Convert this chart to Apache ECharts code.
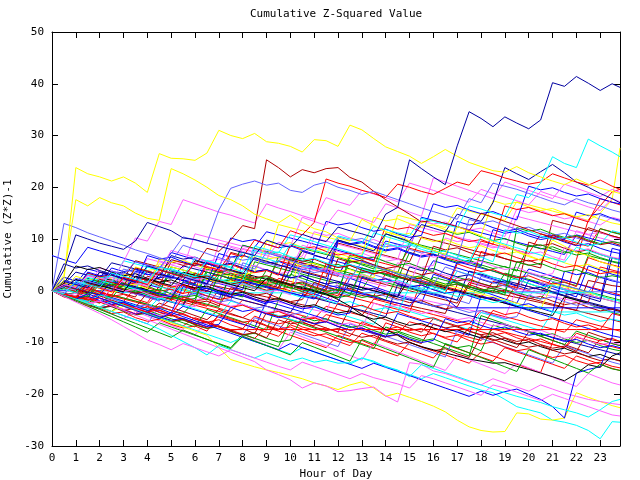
<!DOCTYPE html>
<html>
<head>
<meta charset="utf-8">
<script src="https://cdn.jsdelivr.net/npm/echarts@6/dist/echarts.min.js"></script>
<style>
html, body { margin: 0; padding: 0; background: #fff; }
#chart { width: 640px; height: 480px; }
</style>
</head>
<body>
<div id="chart"></div>
<script>
// hour of day for every sample (half-hour steps, last one at 23:50)
var hours = [0, 0.5, 1, 1.5, 2, 2.5, 3, 3.5, 4, 4.5, 5, 5.5, 6, 6.5, 7, 7.5,
    8, 8.5, 9, 9.5, 10, 10.5, 11, 11.5, 12, 12.5, 13, 13.5, 14, 14.5, 15, 15.5,
    16, 16.5, 17, 17.5, 18, 18.5, 19, 19.5, 20, 20.5, 21, 21.5, 22, 22.5, 23, 23.5, 23.83];

// cumulative (z*z)-1, one array per station
var navyTop = [0, 4.0, 10.8, 10.0, 9.2, 8.6, 8.0, 9.6,
    13.2, 12.4, 11.6, 10.2, 9.9, 9.2, 8.6, 8.0,
    7.4, 6.8, 9.8, 9.0, 8.4, 10.9, 10.1, 9.5,
    12.3, 11.6, 11.0, 10.3, 14.8, 16.1, 25.3, 23.6,
    22.0, 20.5, 28.0, 34.6, 33.3, 31.7, 33.6, 32.4,
    31.3, 33.0, 40.2, 39.5, 41.4, 40.1, 38.7, 40.0, 39.3];
var yellowTop = [0, 2.0, 23.8, 22.6, 22.0, 21.2, 22.0, 20.8,
    19.0, 26.5, 25.6, 25.5, 25.2, 26.6, 31.0, 30.0,
    29.4, 30.4, 28.8, 28.5, 27.9, 26.8, 29.2, 29.0,
    27.9, 32.0, 31.1, 29.4, 27.8, 26.9, 26.0, 24.6,
    25.9, 27.3, 26.0, 24.8, 24.0, 23.2, 22.9, 24.0,
    22.8, 22.0, 21.2, 20.5, 21.6, 20.6, 19.8, 19.2, 18.8];
var yellowSecond = [0, 3.0, 17.6, 16.4, 18.0, 17.0, 16.4, 15.0,
    14.0, 13.6, 23.6, 22.6, 21.4, 20.0, 18.4, 17.6,
    16.4, 14.8, 13.9, 13.1, 14.6, 13.2, 12.0, 11.4,
    10.2, 9.6, 13.8, 12.6, 11.4, 10.8, 9.6, 8.6,
    7.8, 7.0, 12.4, 11.5, 10.6, 9.4, 8.8, 7.6,
    6.8, 5.9, 9.8, 8.6, 7.4, 6.8, 5.6, 4.9, 4.4];
var cyanTop = [0, -0.6, 1.8, 1.2, 0.6, 3.4, 2.8, 2.2,
    1.6, 4.6, 4.0, 3.4, 2.7, 5.8, 5.2, 4.6,
    7.4, 6.8, 6.2, 5.5, 9.0, 8.4, 7.8, 7.2,
    10.6, 10.0, 9.3, 12.4, 11.8, 11.2, 10.6, 14.0,
    13.4, 12.8, 12.2, 16.4, 15.8, 15.0, 14.4, 18.6,
    18.0, 20.8, 25.9, 24.6, 23.8, 29.3, 28.0, 26.8, 25.9];
var slateSpike = [0, 13.0, 12.2, 11.2, 10.4, 9.6, 8.8, 7.9,
    7.2, 6.4, 5.6, 8.8, 8.0, 7.2, 6.4, 5.6,
    4.9, 4.2, 7.4, 6.6, 5.8, 5.0, 4.4, 3.6,
    2.9, 2.2, 5.6, 4.8, 4.0, 3.3, 2.6, 1.9,
    1.2, 4.6, 3.8, 3.0, 2.3, 1.6, 0.9, 0.2,
    3.4, 2.6, 1.8, 1.1, 0.4, -0.3, 2.8, 2.1, 1.6];
var slateHigh = [0, 0.8, 2.4, 1.8, 1.2, 3.8, 3.2, 5.6,
    5.0, 4.4, 7.2, 10.4, 9.8, 9.2, 15.6, 19.8,
    20.6, 21.2, 20.4, 20.8, 19.4, 19.0, 20.4, 21.0,
    20.0, 19.4, 18.6, 19.2, 18.4, 17.6, 16.8, 16.0,
    15.3, 14.6, 13.8, 17.8, 17.0, 20.8, 20.2, 19.6,
    18.8, 18.0, 17.2, 16.6, 17.8, 17.0, 16.4, 15.6, 15.2];
var maroonHigh = [0, 0.9, 0.3, -0.3, 2.2, 1.6, 1.0, 4.4,
    3.8, 3.1, 6.0, 5.4, 4.8, 8.2, 7.6, 9.8,
    12.6, 12.0, 25.3, 23.8, 22.0, 23.4, 22.8, 23.6,
    23.8, 21.9, 21.0, 19.2, 17.6, 16.2, 14.8, 13.3,
    13.6, 13.0, 12.4, 11.6, 15.0, 14.2, 13.4, 12.6,
    11.8, 11.0, 10.2, 9.6, 8.8, 12.2, 11.4, 10.6, 10.2];
var redHigh = [0, -0.7, -1.4, 1.2, 0.5, -0.2, 2.6, 1.9,
    1.2, 4.0, 3.3, 2.6, 5.4, 4.7, 4.0, 7.2,
    6.5, 9.8, 9.0, 8.3, 11.6, 10.8, 13.2, 21.6,
    20.8, 20.2, 19.4, 18.8, 18.0, 20.6, 20.0, 19.2,
    18.6, 19.8, 21.0, 20.4, 23.2, 22.6, 21.8, 21.2,
    20.6, 21.0, 22.6, 21.8, 21.0, 20.4, 21.4, 20.2, 19.6];
var navySecond = [0, 1.8, 1.2, 0.6, 3.6, 3.0, 2.3, 1.6,
    4.8, 4.1, 3.4, 2.7, 2.0, 1.3, 4.6, 3.9,
    3.2, 6.4, 5.7, 5.0, 4.3, 7.6, 6.9, 6.2,
    9.8, 9.1, 8.4, 7.7, 11.0, 10.3, 9.6, 12.8,
    12.1, 11.4, 14.8, 14.1, 13.4, 17.0, 23.8, 22.6,
    21.5, 23.0, 24.4, 22.8, 21.0, 20.0, 18.8, 17.8, 17.0];
var pinkA = [0, 1.2, 0.6, 3.0, 2.4, 1.8, 5.6, 10.2,
    9.6, 13.4, 12.8, 17.6, 16.8, 16.0, 15.2, 14.6,
    13.8, 13.1, 16.8, 16.0, 15.3, 14.5, 13.8, 18.0,
    17.2, 16.5, 19.4, 18.7, 18.0, 17.2, 20.8, 20.1,
    19.4, 18.6, 17.9, 17.1, 19.6, 18.8, 18.1, 17.4,
    16.6, 19.2, 18.4, 17.7, 17.0, 16.2, 15.5, 17.8, 17.2];
var pinkB = [0, -0.5, 1.8, 1.2, 0.5, -0.2, 2.2, 1.5,
    0.8, 3.6, 7.8, 7.1, 6.4, 5.6, 4.9, 8.4,
    7.6, 6.9, 6.2, 9.4, 8.6, 14.2, 13.4, 12.6,
    15.6, 14.8, 14.0, 13.2, 16.8, 16.0, 15.2, 14.4,
    21.8, 21.0, 20.2, 19.4, 18.6, 17.8, 21.0, 20.2,
    19.4, 18.6, 17.8, 20.6, 19.8, 19.0, 18.2, 19.6, 19.0];
var cyanMid = [0, 0.8, 0.2, 2.6, 2.0, 1.4, 5.8, 5.2,
    4.6, 4.0, 3.3, 2.6, 6.4, 5.8, 5.1, 4.4,
    3.7, 8.6, 8.0, 7.3, 10.8, 10.2, 9.5, 8.8,
    8.1, 7.4, 6.7, 11.2, 10.5, 9.8, 9.1, 8.4,
    7.7, 7.0, 6.3, 5.6, 10.4, 9.7, 9.0, 8.3,
    7.6, 6.9, 6.2, 5.5, 8.4, 7.7, 7.0, 6.3, 5.9];
var redFlat = [0, -0.6, -1.2, -1.8, -1.4, -2.2, -2.9, -3.5,
    -4.2, -3.0, -3.8, -4.6, -5.4, -6.2, -7.0, -7.5,
    -7.5, -7.5, -7.5, -7.5, -7.5, -7.5, -7.5, -7.5,
    -7.5, -7.5, -7.5, -7.5, -7.5, -7.5, -7.5, -7.5,
    -7.5, -7.5, -7.5, -7.5, -7.5, -7.5, -7.5, -7.5,
    -7.5, -7.5, -7.5, -7.5, -7.5, -7.5, -7.5, -7.5, -7.5];
var blueFlat = [0, 1.0, 0.4, -0.2, -0.8, 1.8, 1.2, 0.6,
    0.0, -0.6, -1.2, 1.6, 1.0, 0.4, -0.2, -0.8,
    2.0, 1.4, 0.8, 0.2, -0.4, -1.0, -1.6, 1.2,
    0.6, 0.0, -0.6, -1.2, -1.8, -2.4, -3.0, -0.2,
    -0.8, -1.4, -3.3, -3.3, -3.3, -3.3, -3.3, -3.3,
    -3.3, -3.3, -3.3, -3.3, -3.3, -3.3, -3.3, -3.3, -3.3];
var cyanLow = [0, -0.8, -1.6, -2.4, -3.2, -2.0, -2.8, -3.6,
    -4.4, -5.2, -6.0, -6.8, -7.6, -8.4, -9.2, -10.0,
    -9.0, -9.8, -10.6, -11.4, -12.2, -11.0, -11.8, -12.6,
    -13.4, -14.2, -13.0, -13.8, -14.6, -15.4, -16.2, -17.0,
    -16.0, -16.8, -17.6, -18.4, -19.2, -19.7, -21.0, -22.4,
    -23.0, -23.6, -25.0, -25.4, -26.0, -27.0, -28.6, -25.3, -25.4];
var yellowLow = [0, -0.8, -1.6, -2.4, -3.2, -4.0, -3.0, -3.8,
    -4.6, -5.4, -6.2, -7.0, -7.8, -8.6, -11.0, -13.3,
    -14.0, -14.7, -15.3, -15.8, -16.4, -17.0, -17.8, -18.4,
    -19.1, -18.2, -17.6, -18.8, -20.4, -19.8, -20.6, -21.4,
    -22.3, -23.4, -25.0, -26.3, -27.0, -27.3, -27.2, -23.6,
    -23.8, -24.8, -25.0, -24.6, -19.7, -20.6, -21.4, -22.2, -22.6];
var pinkLow = [0, -0.9, -1.8, -2.7, -2.0, -2.9, -3.8, -4.7,
    -5.6, -6.5, -7.4, -8.3, -9.2, -10.1, -11.0, -11.9,
    -12.8, -13.7, -15.3, -16.2, -17.2, -18.8, -17.8, -18.4,
    -19.5, -19.3, -18.9, -18.6, -20.3, -21.5, -13.9, -14.2,
    -15.5, -16.0, -16.8, -17.6, -18.2, -17.0, -17.8, -18.6,
    -19.4, -18.2, -19.0, -19.8, -20.4, -21.0, -21.4, -21.8, -22.0];
var blueLow = [0, -0.8, -1.6, -0.6, -1.4, -2.2, -3.0, -3.8,
    -4.6, -5.4, -4.2, -5.0, -5.8, -6.6, -7.4, -8.2,
    -9.0, -9.8, -10.6, -11.4, -10.2, -11.0, -11.8, -12.6,
    -13.4, -14.2, -15.0, -14.0, -14.8, -15.6, -16.4, -17.2,
    -18.0, -18.8, -19.6, -20.4, -19.4, -20.2, -19.5, -19.0,
    -20.0, -21.0, -22.4, -24.6, -15.9, -15.2, -14.7, -9.0, 8.0];
var blackLow = [0, 0.6, 2.2, 1.6, 1.0, 0.4, -0.2, 2.8,
    2.2, 1.6, 1.0, 3.6, 3.0, 2.4, 1.8, 1.2,
    0.6, 0.0, 2.4, 1.8, 1.2, 0.6, 0.0, -0.6,
    -1.7, -3.0, -4.6, -6.0, -7.5, -8.6, -10.0, -10.8,
    -11.4, -12.0, -12.6, -13.2, -13.6, -14.0, -13.9, -14.6,
    -15.2, -15.9, -16.6, -17.4, -16.0, -14.3, -14.8, -12.6, -12.0];
var greenLow = [0, -0.9, -1.8, -2.7, -3.6, -4.5, -5.4, -6.3,
    -7.2, -8.1, -9.0, -7.6, -8.5, -9.4, -10.3, -11.2,
    -8.8, -9.7, -10.6, -11.5, -12.4, -10.0, -10.9, -11.8,
    -12.7, -13.6, -9.4, -10.3, -11.2, -12.1, -13.0, -13.9,
    -14.8, -10.2, -11.1, -12.0, -12.9, -13.8, -14.7, -15.6,
    -11.4, -12.3, -13.2, -14.1, -15.0, -15.9, -14.2, -15.1, -15.4];
var cyanLow2 = [0, -0.8, -1.6, -2.4, -3.2, -4.0, -4.8, -5.6,
    -6.4, -7.4, -8.6, -9.8, -11.0, -12.4, -10.6, -11.4,
    -12.2, -13.0, -12.0, -12.8, -13.6, -13.0, -13.8, -13.4,
    -14.0, -13.9, -13.0, -13.6, -14.7, -15.3, -16.6, -14.3,
    -15.0, -15.8, -16.6, -17.4, -18.2, -19.0, -19.7, -20.4,
    -21.0, -21.6, -22.4, -23.0, -23.6, -24.4, -23.0, -21.4, -21.0];
var pinkLow2 = [0, -1.1, -2.2, -3.3, -4.4, -5.6, -6.9, -8.2,
    -9.5, -10.4, -11.4, -10.2, -11.0, -11.8, -12.6, -11.4,
    -12.2, -13.0, -13.8, -14.6, -15.3, -13.8, -14.6, -15.4,
    -16.2, -17.0, -16.0, -16.8, -17.4, -18.0, -18.8, -16.4,
    -17.0, -17.8, -18.6, -19.4, -20.2, -18.2, -18.8, -19.6,
    -20.4, -21.2, -20.0, -20.8, -21.6, -22.4, -23.2, -24.0, -24.2];

// the dense middle of the bundle
var mid01 = [0, -0.5, -1.1, -1.7, -0.4, -1.0, -1.6, -2.2, -2.8, -3.4, -1.6, -2.2, -2.8, -3.4, -4.0, -4.6,
    -5.2, -3.8, -4.4, -5.0, -5.6, -6.2, -6.8, -4.6, -5.2, -5.8, -6.4, -7.0, -7.6, -8.2, -6.0, -6.6,
    -7.2, -7.8, -8.4, -9.0, -9.6, -7.4, -8.0, -8.6, -9.2, -9.8, -10.4, -11.0, -9.0, -9.6, -10.2, -10.8, -11.2];
var mid02 = [0, 0.4, -0.2, -0.8, 1.6, 1.0, 0.4, -0.2, -0.8, -1.4, -2.0, 1.2, 0.6, 0.0, -0.6, -1.2,
    2.4, 1.8, 1.2, 0.6, 0.0, -0.6, -1.2, -1.8, 0.8, 0.2, -0.4, -1.0, 3.4, 2.8, 2.2, 1.6,
    1.0, 0.4, -0.2, -0.8, -1.4, 1.8, 1.2, 0.6, 0.0, -0.6, 2.6, 2.0, 1.4, 0.8, 0.2, -0.4, -0.8];
var mid03 = [0, -0.8, -1.6, -2.4, -3.2, -2.0, -2.8, -3.6, -4.4, -5.2, -6.0, -6.8, -5.2, -6.0, -6.8, -7.6,
    -8.4, -9.2, -7.0, -7.8, -8.6, -9.4, -10.2, -11.0, -8.6, -9.4, -10.2, -11.0, -11.8, -12.6, -10.0, -10.8,
    -11.6, -12.4, -13.2, -14.0, -11.8, -12.6, -13.4, -14.2, -15.0, -15.8, -10.0, -2.0, 6.0, 13.7, 16.4, 19.1, 19.6];
var mid04 = [0, 1.4, 0.8, 0.2, 2.8, 2.2, 1.6, 1.0, 3.8, 3.2, 2.6, 2.0, 1.4, 4.6, 4.0, 3.4,
    2.8, 2.2, 1.6, 5.8, 5.2, 4.6, 4.0, 3.4, 2.8, 7.0, 6.4, 5.8, 5.2, 4.6, 8.2, 7.6,
    7.0, 6.4, 5.8, 5.2, 9.6, 9.0, 8.4, 7.8, 7.2, 11.0, 10.4, 9.8, 9.2, 8.6, 12.0, 11.4, 11.0];
var mid05 = [0, -0.6, 1.0, 0.4, -0.2, -0.8, -1.4, -2.0, -2.6, -0.4, -1.0, -1.6, -2.2, -2.8, -3.4, -4.0,
    -1.8, -2.4, -3.0, -3.6, -4.2, -4.8, -5.4, -3.0, -3.6, -4.2, -4.8, -1.6, -2.2, -2.8, -3.4, -4.0,
    -4.6, -5.2, -5.8, -6.4, -3.8, -4.4, -5.0, -5.6, -6.2, -6.8, -7.4, -8.0, -5.6, -6.2, -6.8, -7.4, -7.8];
var mid06 = [0, 0.9, 0.3, -0.3, -0.9, -1.5, -2.1, 0.6, 0.0, -0.6, -1.2, -1.8, -2.4, -3.0, 0.2, -0.4,
    -1.0, -1.6, -2.2, 2.4, 1.8, 1.2, 0.6, 0.0, -0.6, -1.2, -1.8, -2.4, -3.0, -3.6, -4.2, 2.0,
    1.4, 0.8, 0.2, -0.4, -1.0, -1.6, -2.2, 1.4, 0.8, 0.2, -0.4, -1.0, -1.6, -2.2, 4.6, 4.0, 3.6];
var mid07 = [0, -1.0, -2.0, -1.2, -2.0, -2.8, -3.6, -4.4, -3.0, -3.8, -4.6, -5.4, -6.2, -7.0, -4.8, -5.6,
    -6.4, -7.2, -8.0, -8.8, -6.6, -7.4, -8.2, -9.0, -9.8, -10.6, -8.2, -9.0, -9.8, -10.6, -11.4, -12.2,
    -13.0, -10.4, -11.2, -12.0, -12.8, -13.6, -11.0, -11.8, -12.6, -13.4, -14.2, -15.0, -12.6, -13.4, -14.2, -15.0, -15.4];
var mid08 = [6.8, 6.0, 5.3, 8.4, 7.7, 7.0, 6.3, 5.6, 4.9, 4.2, 7.4, 6.7, 6.0, 5.3, 4.6, 3.9,
    8.8, 8.1, 7.4, 6.7, 6.0, 5.3, 4.6, 3.9, 3.2, 6.4, 5.7, 5.0, 4.3, 3.6, 2.9, 2.2,
    5.8, 5.1, 4.4, 3.7, 3.0, 2.3, 1.6, 0.9, 4.2, 3.5, 2.8, 2.1, 1.4, 0.7, 0.0, -0.7, -1.0];
var mid09 = [0, 0, 0, 0, 0, 0, 0, -0.6, -1.2, -1.8, 0.8, 0.2, -0.6, 1.4, 0.6, -0.2,
    -1.0, -1.8, -2.6, 1.8, 1.0, 0.2, -0.6, -1.4, -2.2, 2.4, 1.6, 0.8, 0.0, -0.8, -1.6, -2.4,
    3.2, 2.4, 1.6, 0.8, 0.0, -0.8, -1.6, -2.4, 2.0, 1.2, 0.4, -0.4, -1.2, 4.8, 4.0, 3.2, 2.8];
var mid10 = [0, 2.0, 1.4, 4.2, 3.6, 3.0, 2.4, 1.8, 1.2, 0.6, 3.8, 3.2, 2.6, 2.0, 1.4, 0.8,
    0.2, 8.4, 11.4, 10.8, 10.2, 9.6, 9.0, 8.4, 7.8, 7.2, 6.6, 6.0, 9.6, 9.0, 8.4, 14.2,
    13.6, 13.0, 12.4, 11.8, 11.2, 10.6, 10.0, 9.4, 8.8, 8.2, 7.6, 7.0, 10.8, 10.2, 9.6, 9.0, 8.6];
var mid11 = [0, -0.7, -1.4, -2.1, -0.6, -1.3, -2.0, -2.7, -3.4, -4.1, -4.8, -3.0, -3.7, -4.4, -5.1, -5.8,
    -6.5, -7.2, -2.0, -2.7, -3.4, -4.1, -4.8, -5.5, -6.2, -6.9, -7.6, -8.3, -9.0, -4.4, -5.1, -5.8,
    -6.5, -7.2, -7.9, -8.6, -1.0, -1.7, -2.4, -3.1, -3.8, -4.5, -5.2, -5.9, -6.6, -7.3, -8.0, -8.7, -9.0];
var mid12 = [0, 1.2, 0.6, 0.0, -0.6, 3.8, 3.2, 2.6, 2.0, 1.4, 0.8, 0.2, -0.4, -1.0, -1.6, 2.6,
    2.0, 1.4, 0.8, 0.2, -0.4, -1.0, 6.8, 6.2, 5.6, 5.0, 4.4, 3.8, 3.2, 2.6, 2.0, 1.4,
    0.8, 0.2, 5.6, 5.0, 4.4, 3.8, 3.2, 2.6, 2.0, 1.4, 0.8, 0.2, -0.4, -1.0, -1.6, 8.2, 7.8];
var mid13 = [0, -0.6, 1.8, 1.2, 0.6, 0.0, -0.6, -1.2, 2.8, 2.2, 1.6, 1.0, 0.4, -0.2, 3.6, 3.0,
    2.4, 1.8, 1.2, 0.6, 6.0, 5.4, 4.8, 4.2, 3.6, 3.0, 2.4, 1.8, 1.2, 0.6, 0.0, -0.6,
    -1.2, -1.8, -2.4, 1.6, 1.0, 0.4, -0.2, -0.8, -1.4, -2.0, -2.6, -3.2, -3.8, -4.4, -5.0, -5.6, -6.0];
var mid14 = [0, -0.8, -1.6, -2.4, -1.0, -1.8, -2.6, -3.4, -4.2, -2.4, -3.2, -4.0, -4.8, -5.6, -3.6, -4.4,
    -5.2, -6.0, -6.8, -7.6, -4.8, -5.6, -6.4, -7.2, -8.0, -3.2, -4.0, -4.8, -5.6, -6.4, -7.2, -8.0,
    -5.4, -6.2, -7.0, -7.8, -8.6, -9.4, -10.2, -11.0, -8.0, -8.8, -9.6, -10.4, -11.2, -12.0, -9.4, -10.2, -10.6];
var mid15 = [0, 1.6, 1.0, 0.4, 3.6, 3.0, 2.4, 5.8, 5.2, 4.6, 4.0, 3.4, 2.8, 2.2, 1.6, 7.4,
    6.8, 6.2, 5.6, 5.0, 4.4, 3.8, 3.2, 2.6, 9.2, 8.6, 8.0, 7.4, 6.8, 6.2, 5.6, 10.4,
    9.8, 9.2, 8.6, 8.0, 7.4, 6.8, 6.2, 5.6, 5.0, 4.4, 13.6, 13.0, 12.4, 11.8, 11.2, 10.6, 10.2];
var mid16 = [0, -0.5, -1.0, -1.5, -2.0, 0.4, -0.1, -0.6, -1.1, -1.6, -2.1, -2.6, 1.8, 1.3, 0.8, 0.3,
    -0.2, -0.7, -1.2, -1.7, -2.2, -2.7, -3.2, 0.6, 0.1, -0.4, -0.9, -1.4, -1.9, -2.4, -2.9, -3.4,
    -3.9, -4.4, 1.2, 0.7, 0.2, -0.3, -0.8, -1.3, -1.8, -2.3, -2.8, -3.3, -3.8, 2.0, 1.5, 1.0, 0.8];
var mid17 = [0, -0.8, -1.6, -2.4, -3.2, -4.0, -2.2, -3.0, -3.8, -4.6, -5.4, -6.2, -7.0, -3.6, -4.4, -5.2,
    -6.0, -6.8, -7.6, -1.8, 3.2, 2.4, 1.6, 0.8, 0.0, 5.8, 5.0, 4.2, 11.0, 10.2, 9.4, 8.6,
    7.8, 7.0, 6.2, 5.4, 4.6, 3.8, 3.0, 2.2, 1.4, 0.6, -0.2, -1.0, -1.8, -2.6, -3.4, -4.2, -4.6];
var mid18 = [0, -0.6, -1.2, -1.8, -2.4, -0.8, -1.4, -2.0, -2.6, -3.2, -3.8, -4.4, -2.0, -2.6, -3.2, 4.2,
    8.8, 8.2, 7.6, 7.0, 6.4, 5.8, 5.2, 4.6, 4.0, 3.4, 2.8, 2.2, 1.6, 1.0, 0.4, -0.2,
    2.6, 2.0, 1.4, 0.8, 0.2, -0.4, 3.4, 2.8, 2.2, 1.6, 1.0, 0.4, -0.2, -0.8, -1.4, -2.0, -2.4];
var mid19 = [0, -1.0, -2.0, -3.0, -4.0, -5.0, -6.0, -7.0, -8.0, -6.2, -7.0, -7.8, -8.6, -9.4, -10.2, -11.0,
    -8.4, -9.2, -10.0, -10.8, -5.6, -6.4, -7.2, -8.0, -8.8, -9.6, -10.4, -11.2, -7.0, -7.8, -8.6, -9.4,
    -10.2, -11.0, -11.8, -12.6, -4.8, -5.6, -6.4, -7.2, -8.0, -8.8, -9.6, -10.4, -7.8, -8.6, -9.4, -10.2, -10.6];
var mid20 = [0, 0.6, 0.0, -0.6, 2.0, 1.4, 0.8, 0.2, -0.4, -1.0, -1.6, 1.8, 1.2, 0.6, 0.0, -0.6,
    -1.2, 5.6, 5.0, 4.4, 3.8, 3.2, 2.6, 2.0, 1.4, 0.8, 0.2, 3.8, 3.2, 2.6, 2.0, 1.4,
    0.8, 0.2, 2.6, 2.0, 1.4, 0.8, 0.2, -0.4, -1.0, -1.6, 1.6, 1.0, 0.4, -0.2, -0.8, -1.4, -1.8];
var mid21 = [0, 1.0, 0.4, -0.2, -0.8, -1.4, 1.4, 0.8, 0.2, -0.4, 4.6, 4.0, 3.4, 2.8, 2.2, 1.6,
    1.0, 0.4, 4.0, 3.4, 2.8, 8.2, 7.6, 7.0, 6.4, 5.8, 5.2, 4.6, 4.0, 3.4, 9.4, 8.8,
    8.2, 7.6, 7.0, 6.4, 5.8, 5.2, 4.6, 4.0, 3.4, 2.8, 2.2, 1.6, 1.0, 6.8, 6.2, 5.6, 5.2];
var mid22 = [0, 0.8, 0.2, 3.4, 2.8, 2.2, 1.6, 1.0, 4.8, 4.2, 3.6, 3.0, 2.4, 1.8, 9.2, 8.6,
    8.0, 7.4, 6.8, 6.2, 5.6, 5.0, 4.4, 3.8, 3.2, 2.6, 2.0, 1.4, 0.8, 5.4, 4.8, 4.2,
    3.6, 3.0, 2.4, 1.8, 1.2, 0.6, 0.0, -0.6, -1.2, 1.6, 1.0, 0.4, -0.2, -0.8, -1.4, -2.0, -2.4];
var mid23 = [0, -0.9, -1.8, -2.7, -3.6, -4.5, -5.4, -4.0, -4.9, -5.8, -6.7, -7.6, -8.5, -6.0, -6.9, -7.8,
    -8.7, -9.6, -10.5, -11.4, -8.0, -8.9, -9.8, -10.7, -11.6, -12.5, -13.4, -10.0, -10.9, -11.8, -12.7, -13.6,
    -14.5, -15.4, -12.4, -13.3, -14.2, -15.1, -16.0, -14.0, -14.9, -15.8, -16.7, -17.6, -18.5, -16.0, -16.9, -17.8, -18.2];
var mid24 = [0, 1.8, 1.2, 0.6, 4.4, 3.8, 3.2, 2.6, 6.2, 5.6, 5.0, 4.4, 11.0, 10.4, 9.8, 9.2,
    8.6, 8.0, 7.4, 6.8, 6.2, 5.6, 10.2, 9.6, 9.0, 8.4, 7.8, 7.2, 6.6, 6.0, 12.8, 12.2,
    11.6, 11.0, 10.4, 9.8, 9.2, 8.6, 8.0, 14.4, 13.8, 13.2, 12.6, 12.0, 11.4, 10.8, 10.2, 9.6, 9.2];
var mid25 = [0, -0.5, -1.0, 1.4, 0.9, 0.4, -0.1, -0.6, -1.1, -1.6, -2.1, -2.6, -3.1, 0.8, 0.3, -0.2,
    -0.7, -1.2, -1.7, -2.2, -2.7, -3.2, -3.7, -4.2, 1.8, 1.3, 0.8, 0.3, -0.2, -0.7, -1.2, -1.7,
    -2.2, -2.7, -3.2, -3.7, -4.2, -4.7, -5.2, 0.4, -0.1, -0.6, -1.1, -1.6, -2.1, -2.6, -3.1, -3.6, -3.8];
var mid26 = [0, -0.7, -1.4, 2.2, 1.5, 0.8, 0.1, -0.6, -1.3, -2.0, 1.6, 0.9, 0.2, -0.5, -1.2, -1.9,
    5.4, 4.7, 4.0, 3.3, 2.6, 1.9, 1.2, 0.5, -0.2, -0.9, 3.8, 3.1, 2.4, 1.7, 1.0, 0.3,
    -0.4, -1.1, -1.8, -2.5, 2.8, 2.1, 1.4, -0.2, -0.2, -0.2, -0.2, -0.2, -0.2, -0.2, -0.2, -0.2, -0.2];
var mid27 = [0, -0.8, -1.6, -2.4, -3.2, -4.0, -4.8, -5.6, -6.4, -3.0, -3.8, -4.6, -5.4, -6.2, -7.0, -7.8,
    -8.6, -5.2, -6.0, -6.8, -7.6, -8.4, -9.2, -10.0, -10.8, -6.4, -7.2, -8.0, -8.8, -9.6, -10.4, -11.2,
    -12.0, -12.8, -7.6, -8.4, -9.2, -10.0, -10.8, -11.6, -12.4, -13.2, -14.0, -10.6, -11.4, -12.2, -13.0, -13.8, -14.2];
var mid28 = [0, 1.2, 3.6, 3.0, 2.4, 5.4, 4.8, 4.2, 3.6, 3.0, 2.4, 4.8, 4.2, 3.6, 3.0, 2.4,
    1.8, 1.2, 0.6, 0.0, 4.2, 3.6, 3.0, 2.4, 1.8, 1.2, 0.6, 0.0, -0.6, -1.2, -1.8, -2.4,
    -3.0, -3.6, -4.2, -4.8, -5.4, -6.0, -6.6, -7.2, -7.8, -8.4, -9.0, -9.6, -10.2, -10.8, -11.4, -12.0, -12.4];
var mid29 = [0, -0.6, -1.2, 2.0, 1.4, 0.8, 0.2, -0.4, -1.0, -1.6, -2.2, -2.8, 0.6, 0.0, -0.6, -1.2,
    -1.8, -2.4, -3.0, -3.6, -4.2, -0.8, -1.4, -2.0, -2.6, -3.2, -3.8, -4.4, -5.0, 1.2, 0.6, 0.0,
    -0.6, -1.2, -1.8, 3.8, 3.2, 2.6, 2.0, 1.4, 0.8, 0.2, -0.4, -1.0, -1.6, -2.2, -2.8, -3.4, -3.8];
var mid30 = [0, -0.6, 0.8, 0.2, -0.4, 1.6, 1.0, 0.4, -0.2, -0.8, 0.6, 0.0, -0.4, -0.4, -0.4, -0.4,
    -0.4, -0.4, -0.4, -0.4, -0.4, -0.4, -0.4, -0.4, -0.4, -0.4, -0.4, -0.4, -0.4, -0.4, -0.4, -0.4,
    -0.4, -0.4, -0.4, -0.4, -0.4, -0.4, -0.4, -0.4, -0.4, -0.4, -0.4, -0.4, -0.4, -0.4, -1.0, -1.6, -2.0];
var mid31 = [0, -0.7, -1.4, -2.1, -0.8, -1.5, -2.2, -2.9, -3.6, -1.4, -2.1, -2.8, -3.5, -4.2, -4.9, -2.0,
    -2.7, -3.4, -4.1, -4.8, -5.5, -6.2, -3.0, -3.7, -4.4, -5.1, -5.8, -6.5, -2.6, -3.3, -4.0, -4.7,
    -5.4, -6.1, -6.8, -7.5, -4.2, -4.9, -5.6, -6.3, -7.0, -7.7, -4.1, -4.1, -4.1, -4.1, -4.1, -4.1, -4.1];
var mid32 = [0, -0.6, -1.2, 1.4, 0.8, 0.2, 3.2, 2.6, 2.0, 1.4, 0.8, 0.2, -0.4, 4.0, 3.4, 2.8,
    2.2, 1.6, 1.0, 0.4, -0.2, 8.4, 7.8, 7.2, 6.6, 6.0, 5.4, 4.8, 4.2, 3.6, 3.0, 2.4,
    1.8, 1.2, 0.6, 0.0, -0.6, -1.2, -1.8, -2.4, -3.0, -3.6, 1.4, 0.8, 0.2, -0.4, -1.0, -1.6, -2.0];
var mid33 = [0, 1.2, 0.6, 0.0, -0.6, 2.6, 2.0, 1.4, 0.8, 5.2, 4.6, 4.0, 3.4, 2.8, 2.2, 1.6,
    6.8, 6.2, 5.6, 12.8, 12.2, 11.6, 11.0, 10.4, 9.8, 9.2, 8.6, 8.0, 7.4, 14.6, 14.0, 13.4,
    12.8, 12.2, 16.0, 15.4, 14.8, 14.2, 13.6, 17.2, 16.6, 16.0, 15.4, 14.8, 14.2, 13.6, 15.0, 17.6, 27.6];
var mid34 = [0, 0.8, 0.2, -0.4, 2.6, 2.0, 1.4, 0.8, 0.2, 3.2, 2.6, 2.0, 5.8, 5.2, 4.6, 4.0,
    3.4, 2.8, 2.2, 1.6, 1.0, 0.4, -0.2, -0.8, -1.4, 1.2, 0.6, 0.0, -0.6, -1.2, 2.4, 1.8,
    1.2, 0.6, 0.0, -0.6, -1.2, -1.8, -2.4, -3.0, -3.6, -4.2, -4.8, -1.2, -1.8, -2.4, -3.0, -3.6, -4.0];
var mid35 = [0, -0.9, -0.4, -1.5, -2.3, -1.9, -3.0, -3.6, -3.1, -4.2, -4.9, -4.4, -5.5, -6.1, -5.6, -6.6,
    -7.3, -4.9, -5.8, -6.4, -5.9, -7.0, -7.6, -7.2, -8.1, -8.8, -6.0, -6.9, -7.5, -7.0, -8.0, -8.7,
    -8.2, -9.2, -9.9, -7.1, -7.9, -8.6, -8.1, -9.1, -9.8, -9.3, -10.3, -11.0, -8.2, -9.0, -9.7, -9.2, -9.8];
var mid36 = [0, -0.4, -1.3, 0.4, -0.3, -1.1, -0.7, -1.6, -2.3, 0.9, 0.2, -0.5, -0.1, -1.0, -1.7, -1.3,
    2.8, 2.0, 1.4, 1.8, 0.9, 0.2, 0.6, -0.3, -1.0, 3.3, 2.6, 1.9, 2.3, 1.4, 0.7, 1.1,
    0.2, -0.5, 5.2, 4.4, 3.7, 4.1, 3.2, 2.5, 2.9, 2.0, 1.3, 1.7, 0.8, 6.4, 5.6, 5.0, 4.6];
var mid37 = [0, -0.7, -1.5, -1.1, -2.0, -2.7, -2.3, -3.2, -0.4, -1.2, -0.8, -1.7, -2.4, -2.0, -2.9, 0.6,
    -0.1, -0.9, -0.5, -1.4, -2.1, -1.7, 1.6, 0.8, 0.1, 0.5, -0.4, -1.1, -0.7, -1.6, -2.3, -1.9,
    -2.8, -3.5, -3.1, 1.2, 0.4, -0.3, 0.1, -0.8, -1.5, -1.1, -2.0, -2.7, -2.3, -3.2, -3.9, -3.5, -3.9];
var mid38 = [0, 0.5, -0.3, 2.4, 1.7, 2.1, 1.2, 0.5, 0.9, 0.0, 3.6, 2.9, 3.3, 2.4, 1.7, 2.1,
    1.2, 0.5, 0.9, 6.6, 5.9, 6.3, 5.4, 4.7, 5.1, 4.2, 3.5, 3.9, 3.0, 2.3, 7.4, 6.7,
    7.1, 6.2, 5.5, 5.9, 5.0, 4.3, 4.7, 3.8, 8.8, 8.1, 8.5, 7.6, 6.9, 7.3, 6.4, 5.7, 5.4];
var mid39 = [0, 2.6, 1.9, 2.3, 1.4, 4.4, 3.7, 4.1, 3.2, 2.5, 2.9, 2.0, 1.3, 5.6, 4.9, 5.3,
    4.4, 3.7, 4.1, 3.2, 2.5, 2.9, 2.0, 1.3, 9.6, 8.9, 9.3, 8.4, 7.7, 8.1, 7.2, 6.5,
    6.9, 6.0, 5.3, 5.7, 4.8, 11.8, 11.1, 11.5, 10.6, 9.9, 10.3, 9.4, 8.7, 9.1, 8.2, 7.5, 7.2];
var mid40 = [0, -0.6, 0.9, 0.3, 0.7, -0.2, 2.8, 2.1, 2.5, 1.6, 0.9, 1.3, 6.4, 5.7, 6.1, 5.2,
    4.5, 4.9, 4.0, 3.3, 3.7, 8.8, 8.1, 8.5, 7.6, 6.9, 7.3, 6.4, 5.7, 6.1, 5.2, 4.5,
    4.9, 10.2, 9.5, 9.9, 9.0, 8.3, 8.7, 7.8, 7.1, 7.5, 6.6, 5.9, 11.6, 10.9, 11.3, 10.4, 10.0];
var mid41 = [0, 0.9, 0.2, 3.2, 2.5, 2.9, 2.0, 1.3, 1.7, 0.8, 0.1, 0.5, -0.4, 2.6, 1.9, 2.3,
    1.4, 0.7, 1.1, 0.2, -0.5, 4.8, 4.1, 4.5, 3.6, 2.9, 3.3, 2.4, 1.7, 2.1, 1.2, 0.5,
    0.9, 0.0, 3.8, 3.1, 3.5, 2.6, 1.9, 2.3, 1.4, 0.7, 1.1, 0.2, -0.5, -0.1, -1.0, -1.7, -2.0];
var mid42 = [0, 1.6, 0.9, 1.3, 0.4, -0.3, 0.1, 4.6, 3.9, 4.3, 3.4, 2.7, 3.1, 2.2, 1.5, 1.9,
    1.0, 6.8, 6.1, 6.5, 5.6, 4.9, 5.3, 4.4, 3.7, 4.1, 3.2, 2.5, 11.4, 10.7, 11.1, 10.2,
    9.5, 9.9, 9.0, 8.3, 8.7, 7.8, 7.1, 7.5, 6.6, 5.9, 6.3, 5.4, 4.7, 5.1, 4.2, 3.5, 3.2];
var mid43 = [0, -0.8, -0.3, -1.2, -1.9, -1.5, -2.4, -3.1, -2.7, -3.6, -0.2, -1.0, -0.6, -1.5, -2.2, -1.8,
    -2.7, -3.4, -3.0, -3.9, -4.6, -4.2, 1.4, 0.6, 1.0, 0.1, -0.6, -0.2, -1.1, -1.8, -1.4, -2.3,
    -3.0, -2.6, -3.5, -4.2, -3.8, -4.7, -5.4, -5.0, -0.8, -1.6, -1.2, -2.1, -2.8, -2.4, -3.3, -4.0, -4.2];
var mid44 = [0, 5.2, 4.4, 4.8, 3.9, 3.2, 3.6, 2.7, 2.0, 2.4, 6.8, 6.1, 6.5, 5.6, 4.9, 5.3,
    4.4, 3.7, 4.1, 3.2, 2.5, 2.9, 2.0, 1.3, 1.7, 0.8, 0.1, 0.5, -0.4, -1.1, 4.6, 3.9,
    4.3, 3.4, 2.7, 3.1, 2.2, 1.5, 1.9, 1.0, 0.3, 0.7, -0.2, -0.9, -0.5, -1.4, -2.1, 6.4, 6.0];
var mid45 = [0, -1.2, -1.8, -2.9, -3.4, -4.4, -4.1, -5.2, -5.9, -5.5, -6.5, -7.2, -6.8, -7.8, -4.6, -5.4,
    -6.1, -5.7, -6.7, -7.4, -7.0, -8.0, -8.7, -8.3, -9.3, -10.0, -9.6, -10.6, -6.2, -7.0, -7.7, -7.3,
    -8.3, -9.0, -8.6, -9.6, -10.3, -9.9, -10.9, -11.6, -11.2, -12.2, -12.9, -12.5, -13.5, -14.2, -13.8, -14.6, -14.9];
var mid46 = [0, -1.0, -1.6, -2.5, -2.1, -3.1, -3.8, -3.4, -4.4, -5.1, -4.7, -5.7, -6.4, -6.0, -7.0, -7.7,
    -7.3, -8.3, -4.2, -5.0, -4.6, -5.6, -6.3, -5.9, -6.9, -7.6, -7.2, -8.2, -8.9, -8.5, -9.5, -10.2,
    -6.4, -7.2, -6.8, -7.8, -8.5, -8.1, -9.1, -9.8, -9.4, -10.4, -11.1, -10.7, -11.7, -8.0, -8.8, -9.5, -9.8];
var mid47 = [0, -1.1, -1.7, -2.6, -3.4, -3.0, -4.0, -4.7, -4.3, -5.3, -6.0, -5.6, -6.6, -7.3, -6.9, -7.9,
    -8.6, -8.2, -9.2, -9.9, -9.5, -5.0, -5.8, -5.4, -6.4, -7.1, -6.7, -7.7, -8.4, -8.0, -9.0, -9.7,
    -9.3, -10.3, -11.0, -10.6, -11.6, -6.6, -7.4, -7.0, -8.0, -8.7, -8.3, -9.3, -10.0, -9.6, -10.6, -11.3, -11.6];
var mid48 = [0, -0.5, -1.4, -1.0, -1.9, -2.6, -2.2, -3.1, -3.8, -3.4, -4.3, 0.8, 0.1, 0.5, -0.4, -1.1,
    -0.7, -1.6, -2.3, -1.9, -2.8, -3.5, -3.1, -4.0, -4.7, -4.3, 2.6, 1.9, 2.3, 1.4, 0.7, 1.1,
    0.2, -0.5, -0.1, -1.0, -1.7, -1.3, -2.2, -2.9, -2.5, -3.4, -4.1, 3.8, 3.1, 3.5, 2.6, 1.9, 1.6];
var mid49 = [0, 0.6, -0.2, 0.2, -0.7, 1.8, 1.1, 1.5, 0.6, -0.1, 0.3, -0.6, 3.4, 2.7, 3.1, 2.2,
    1.5, 1.9, 1.0, 0.3, 0.7, -0.2, -0.9, 5.2, 4.5, 4.9, 4.0, 3.3, 3.7, 2.8, 2.1, 2.5,
    1.6, 0.9, 1.3, 0.4, 7.6, 6.9, 7.3, 6.4, 5.7, 6.1, 5.2, 4.5, 4.9, 4.0, 3.3, 3.7, 3.4];
var mid50 = [0, -0.9, -1.5, -2.4, -2.0, -2.9, -3.6, -3.2, -4.1, -4.8, -4.4, -1.0, -1.8, -1.4, -2.3, -3.0,
    -2.6, -3.5, -4.2, -3.8, -4.7, -5.4, -5.0, -5.9, -6.6, -6.2, -7.1, -2.4, -3.2, -2.8, -3.7, -4.4,
    -4.0, -4.9, -5.6, -5.2, -6.1, -6.8, -6.4, -7.3, -8.0, -7.6, -8.5, -9.2, -8.8, -9.7, -10.4, -10.0, -10.4];
var mid51 = [0, -0.5, 1.4, 0.8, 1.2, 0.3, -0.4, 0.0, -0.9, -1.6, -1.2, 3.0, 2.3, 2.7, 1.8, 1.1,
    1.5, 0.6, -0.1, 0.3, -0.6, -1.3, -0.9, -1.8, -2.5, -2.1, -3.0, -3.7, -3.3, -4.2, 0.8, 0.1,
    0.5, -0.4, -1.1, -0.7, -1.6, -2.3, -1.9, -2.8, -3.5, -3.1, -4.0, -4.7, -4.3, -5.2, -5.9, -5.5, -5.8];
var mid52 = [0, 1.2, 0.5, 3.4, 2.7, 3.1, 2.2, 1.5, 1.9, 1.0, 5.6, 4.9, 5.3, 4.4, 3.7, 4.1,
    3.2, 2.5, 2.9, 2.0, 1.3, 1.7, 0.8, 0.1, 6.2, 5.5, 5.9, 5.0, 4.3, 4.7, 3.8, 3.1,
    3.5, 2.6, 1.9, 2.3, 1.4, 0.7, 1.1, 0.2, 9.4, 8.7, 9.1, 8.2, 7.5, 7.9, 7.0, 6.3, 6.0];
var mid53 = [0, 0.4, -0.4, 1.6, 0.9, 1.3, 0.4, -0.3, 0.1, -0.8, -1.5, -1.1, -2.0, 4.2, 3.5, 3.9,
    3.0, 2.3, 2.7, 1.8, 1.1, 1.5, 0.6, -0.1, 0.3, -0.6, -1.3, -0.9, -1.8, 2.8, 2.1, 2.5,
    1.6, 0.9, 1.3, 0.4, -0.3, 0.1, -0.8, 12.2, 11.5, 11.9, 11.0, 10.3, 10.7, 9.8, 9.1, 9.5, 9.2];
var mid54 = [0, 1.4, 4.8, 4.1, 4.5, 3.6, 2.9, 3.3, 2.4, 1.7, 2.1, 1.2, 0.5, 0.9, 0.0, -0.7,
    -0.3, -1.2, -1.9, -1.5, -2.4, -3.1, -2.7, -3.6, -4.3, -3.9, -4.8, -5.5, -5.1, -6.0, -6.7, -6.3,
    -7.2, -7.9, -7.5, -8.4, -9.1, -8.7, -9.6, -10.3, -9.9, -10.8, -11.5, -11.1, -12.0, -12.7, -12.3, -13.2, -13.5];
var mid55 = [0, 0.7, 0.1, 2.9, 2.2, 2.6, 1.7, 1.0, 1.4, 5.8, 5.1, 5.5, 4.6, 3.9, 4.3, 3.4,
    8.2, 7.5, 7.9, 7.0, 6.3, 6.7, 11.4, 10.7, 11.1, 10.2, 9.5, 9.9, 9.0, 8.3, 8.7, 13.6,
    12.9, 13.3, 12.4, 11.7, 12.1, 11.2, 10.5, 15.8, 15.1, 15.5, 14.6, 13.9, 14.3, 13.4, 12.7, 14.2, 13.8];
var mid56 = [0, -0.6, 1.6, 0.9, 1.3, 0.4, -0.3, 3.8, 3.1, 3.5, 2.6, 1.9, 2.3, 1.4, 7.2, 6.5,
    6.9, 6.0, 5.3, 5.7, 4.8, 4.1, 4.5, 3.6, 9.8, 9.1, 9.5, 8.6, 7.9, 8.3, 7.4, 6.7,
    7.1, 6.2, 13.4, 12.7, 13.1, 12.2, 11.5, 11.9, 11.0, 10.3, 10.7, 9.8, 15.2, 14.5, 14.9, 14.0, 13.6];
var mid57 = [0, -0.8, -0.4, -1.3, 1.2, 0.5, 0.9, 0.0, -0.7, -0.3, -1.2, -1.9, -1.5, 3.6, 2.9, 3.3,
    2.4, 1.7, 2.1, 1.2, 0.5, 0.9, 0.0, -0.7, -0.3, 6.8, 6.1, 6.5, 5.6, 4.9, 5.3, 4.4,
    3.7, 11.6, 10.9, 11.3, 10.4, 9.7, 10.1, 9.2, 8.5, 8.9, 8.0, 7.3, 7.7, 6.8, 12.0, 11.3, 10.9];
var mid58 = [0, 0.5, 2.8, 2.1, 2.5, 1.6, 0.9, 1.3, 0.4, 6.2, 5.5, 5.9, 5.0, 4.3, 4.7, 3.8,
    3.1, 3.5, 9.6, 8.9, 9.3, 8.4, 7.7, 8.1, 7.2, 6.5, 6.9, 14.2, 13.5, 13.9, 13.0, 12.3,
    12.7, 11.8, 11.1, 11.5, 10.6, 17.4, 16.7, 17.1, 16.2, 15.5, 15.9, 15.0, 14.3, 14.7, 13.8, 13.1, 12.8];
var mid59 = [0, 0.9, 0.3, 0.7, -0.2, -0.9, 2.6, 1.9, 2.3, 1.4, 0.7, 1.1, 0.2, 5.4, 4.7, 5.1,
    4.2, 3.5, 3.9, 3.0, 8.8, 8.1, 8.5, 7.6, 6.9, 7.3, 6.4, 5.7, 12.6, 11.9, 12.3, 11.4,
    10.7, 11.1, 10.2, 9.5, 9.9, 9.0, 16.4, 15.7, 16.1, 15.2, 14.5, 14.9, 14.0, 13.3, 17.8, 17.1, 16.6];
var mid60 = [0, 1.9, 1.2, 1.6, 0.7, 0.0, 4.2, 3.5, 3.9, 3.0, 2.3, 2.7, 1.8, 1.1, 1.5, 6.6,
    5.9, 6.3, 5.4, 4.7, 5.1, 4.2, 3.5, 3.9, 10.4, 9.7, 10.1, 9.2, 8.5, 8.9, 8.0, 7.3,
    7.7, 6.8, 6.1, 13.8, 13.1, 13.5, 12.6, 11.9, 12.3, 11.4, 10.7, 11.1, 10.2, 9.5, 14.6, 13.9, 13.4];
var mid61 = [0, -0.7, -1.3, 1.4, 0.7, 1.1, 0.2, -0.5, -0.1, -1.0, -1.7, 3.2, 2.5, 2.9, 2.0, 1.3,
    1.7, 0.8, 0.1, 0.5, 6.4, 5.7, 6.1, 5.2, 4.5, 4.9, 4.0, 3.3, 3.7, 2.8, 2.1, 2.5,
    8.6, 7.9, 8.3, 7.4, 6.7, 7.1, 6.2, 5.5, 5.9, 5.0, 10.8, 10.1, 10.5, 9.6, 8.9, 9.3, 8.8];
var mid62 = [0, 0.4, -0.4, 2.2, 1.5, 1.9, 1.0, 0.3, 4.6, 3.9, 4.3, 3.4, 2.7, 3.1, 2.2, 1.5,
    1.9, 7.8, 7.1, 7.5, 6.6, 5.9, 6.3, 5.4, 4.7, 5.1, 4.2, 3.5, 9.2, 8.5, 8.9, 8.0,
    7.3, 7.7, 6.8, 6.1, 6.5, 5.6, 11.8, 11.1, 11.5, 10.6, 9.9, 10.3, 9.4, 8.7, 9.1, 11.6, 11.2];
var mid63 = [0, -0.9, -0.5, -1.4, -2.1, 0.6, -0.1, 0.3, -0.6, -1.3, -0.9, 2.8, 2.1, 2.5, 1.6, 0.9,
    1.3, 0.4, -0.3, 0.1, -0.8, 4.6, 3.9, 4.3, 3.4, 2.7, 3.1, 2.2, 1.5, 1.9, 1.0, 7.2,
    6.5, 6.9, 6.0, 5.3, 5.7, 4.8, 4.1, 4.5, 3.6, 2.9, 3.3, 8.4, 7.7, 8.1, 7.2, 6.5, 6.2];
var mid64 = [0, 1.0, 0.3, 3.6, 2.9, 3.3, 2.4, 1.7, 6.8, 6.1, 6.5, 5.6, 4.9, 5.3, 4.4, 10.2,
    9.5, 9.9, 9.0, 8.3, 8.7, 7.8, 7.1, 13.4, 12.7, 13.1, 12.2, 11.5, 11.9, 11.0, 10.3, 10.7,
    16.8, 16.1, 16.5, 15.6, 14.9, 15.3, 14.4, 13.7, 20.2, 19.5, 19.9, 19.0, 18.3, 18.7, 17.8, 17.1, 16.8];
var mid65 = [0, -0.6, -1.4, -1.0, 1.8, 1.1, 1.5, 0.6, -0.1, 0.3, -0.6, -1.3, -0.9, -1.8, 3.0, 2.3,
    2.7, 1.8, 1.1, 1.5, 0.6, -0.1, 0.3, -0.6, -1.3, -0.9, 4.4, 3.7, 4.1, 3.2, 2.5, 2.9,
    2.0, 1.3, 1.7, 0.8, 0.1, 0.5, -0.4, 5.6, 4.9, 5.3, 4.4, 3.7, 4.1, 3.2, 2.5, 2.9, 2.6];
var mid66 = [0, -0.8, -1.7, -1.3, -2.2, -2.9, -2.5, -3.4, -4.1, -3.7, -4.6, -1.2, -2.0, -1.6, -2.5, -3.2,
    -2.8, -3.7, -4.4, -4.0, -4.9, -5.6, -5.2, -6.1, -2.4, -3.2, -2.8, -3.7, -4.4, -4.0, -4.9, -5.6,
    -5.2, -6.1, -6.8, -6.4, -7.3, -3.8, -4.6, -4.2, -5.1, -5.8, -5.4, -6.3, -7.0, -6.6, -7.5, -4.4, -4.8];
var mid67 = [0, -1.0, -1.6, -2.5, -3.3, -2.9, -3.8, -4.5, -4.1, -5.0, -5.7, -5.3, -6.2, -6.9, -6.5, -3.2,
    -4.0, -3.6, -4.5, -5.2, -4.8, -5.7, -6.4, -6.0, -6.9, -7.6, -7.2, -8.1, -8.8, -8.4, -9.3, -10.0,
    -9.6, -5.4, -6.2, -5.8, -6.7, -7.4, -7.0, -7.9, -8.6, -8.2, -9.1, -9.8, -9.4, -10.3, -11.0, -10.6, -11.0];
var mid68 = [0, -1.1, -1.6, -2.6, -3.3, -2.9, -3.9, -4.6, -4.2, -5.2, -5.9, -5.5, -6.5, -7.2, -6.8, -7.8,
    -8.5, -8.1, -9.1, -5.6, -6.4, -6.0, -7.0, -7.7, -7.3, -8.3, -9.0, -8.6, -9.6, -10.3, -9.9, -10.9,
    -11.6, -11.2, -12.2, -12.9, -8.8, -9.6, -9.2, -10.2, -10.9, -10.5, -11.5, -12.2, -11.8, -12.8, -13.5, -13.1, -13.6];

var RED = '#ff0000', MAROON = '#b00000', GREEN = '#00a000', BLUE = '#0000ff', NAVY = '#0000a0',
    SLATE = '#6464ff', PINK = '#ff64ff', CYAN = '#00ffff', YELLOW = '#ffff00', BLACK = '#000000';

// drawing order: the dense middle first, the outliers last
var lines = [
    [mid01, RED], [mid02, RED], [mid03, RED], [mid04, RED], [mid05, RED], [mid06, RED], [mid07, RED],
    [mid08, BLUE], [mid09, BLUE], [mid10, BLUE], [mid11, BLUE], [mid12, BLUE],
    [mid13, MAROON], [mid14, MAROON], [mid15, MAROON], [mid16, MAROON],
    [mid17, GREEN], [mid18, GREEN], [mid19, GREEN], [mid20, GREEN], [mid21, GREEN],
    [mid22, PINK], [mid23, PINK], [mid24, PINK], [mid25, PINK],
    [mid26, SLATE], [mid27, SLATE], [mid28, NAVY], [mid29, NAVY],
    [mid30, CYAN], [mid31, CYAN], [mid32, YELLOW], [mid33, YELLOW], [mid34, BLACK],
    [mid35, RED], [mid36, RED], [mid37, MAROON], [mid38, GREEN], [mid39, BLUE], [mid40, PINK],
    [mid41, CYAN], [mid42, YELLOW], [mid43, SLATE], [mid44, NAVY], [mid45, RED], [mid46, MAROON],
    [mid47, GREEN], [mid48, BLUE], [mid49, RED], [mid50, PINK], [mid51, CYAN], [mid52, MAROON],
    [mid53, GREEN], [mid54, BLACK],
    [mid55, PINK], [mid56, BLUE], [mid57, GREEN], [mid58, YELLOW], [mid59, RED], [mid60, SLATE],
    [mid61, MAROON], [mid62, CYAN], [mid63, PINK], [mid64, BLUE], [mid65, GREEN], [mid66, RED],
    [mid67, BLUE], [mid68, MAROON],
    [redFlat, RED], [blueFlat, BLUE],
    [cyanLow, CYAN], [yellowLow, YELLOW], [pinkLow, PINK], [blueLow, BLUE],
    [blackLow, BLACK], [greenLow, GREEN], [cyanLow2, CYAN], [pinkLow2, PINK],
    [cyanMid, CYAN], [pinkA, PINK], [pinkB, PINK], [navySecond, NAVY], [redHigh, RED],
    [maroonHigh, MAROON], [slateHigh, SLATE], [slateSpike, SLATE], [cyanTop, CYAN],
    [yellowSecond, YELLOW], [yellowTop, YELLOW], [navyTop, NAVY]
];

var FONT = 'DejaVu Sans Mono';
var myChart = echarts.init(document.getElementById('chart'), null, {renderer: 'canvas'});

var series = lines.map(function (item) {
    var vals = item[0];
    var pts = [];
    for (var i = 0; i < hours.length && i < vals.length; ++i) {
        pts.push([hours[i], vals[i]]);
    }
    return {
        type: 'line',
        data: pts,
        showSymbol: false,
        symbol: 'none',
        silent: true,
        lineStyle: {color: item[1], width: 1},
        itemStyle: {color: item[1]}
    };
});

var axisLine = {show: true, onZero: false, lineStyle: {color: '#000', width: 1}};
var axisTick = {show: true, inside: true, length: 6, lineStyle: {color: '#000', width: 1}};

var option = {
    animation: false,
    backgroundColor: '#fff',
    grid: {left: 52, right: 20, top: 32, bottom: 34, containLabel: false, outerBoundsMode: 'none'},
    graphic: [{
        type: 'text',
        left: 250,
        top: 9,
        style: {text: 'Cumulative Z-Squared Value', font: '11px "' + FONT + '"', fill: '#000'}
    }],
    xAxis: [{
        type: 'value',
        position: 'bottom',
        min: 0,
        max: 23.83,
        interval: 1,
        axisLine: axisLine,
        axisTick: axisTick,
        splitLine: {show: false},
        axisLabel: {
            color: '#000', fontFamily: FONT, fontSize: 11, margin: 7,
            showMaxLabel: false,
            formatter: function (v) { return Math.abs(v - Math.round(v)) < 1e-6 ? String(v) : ''; }
        },
        name: 'Hour of Day',
        nameLocation: 'middle',
        nameGap: 21,
        nameTextStyle: {color: '#000', fontFamily: FONT, fontSize: 11}
    }, {
        type: 'value',
        position: 'top',
        min: 0,
        max: 23.83,
        interval: 1,
        axisLine: axisLine,
        axisTick: axisTick,
        axisLabel: {show: false},
        splitLine: {show: false}
    }],
    yAxis: [{
        type: 'value',
        position: 'left',
        min: -30,
        max: 50,
        interval: 10,
        axisLine: axisLine,
        axisTick: axisTick,
        splitLine: {show: false},
        axisLabel: {color: '#000', fontFamily: FONT, fontSize: 11, margin: 8},
        name: 'Cumulative (Z*Z)-1',
        nameLocation: 'middle',
        nameGap: 26,
        nameTextStyle: {color: '#000', fontFamily: FONT, fontSize: 11}
    }, {
        type: 'value',
        position: 'right',
        min: -30,
        max: 50,
        interval: 10,
        axisLine: axisLine,
        axisTick: axisTick,
        axisLabel: {show: false},
        splitLine: {show: false}
    }],
    series: series
};
myChart.setOption(option);
</script>
</body>
</html>
